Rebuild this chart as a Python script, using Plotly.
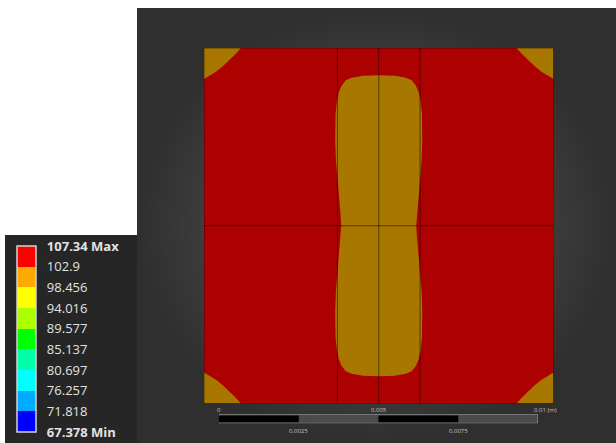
import plotly.graph_objects as go

# Figure size in pixels
W, H = 616, 443

# ---- Result legend: band boundaries and colours ----
levels = [67.378, 71.818, 76.257, 80.697, 85.137, 89.577, 94.016, 98.456, 102.9, 107.34]
level_labels = ["<b>67.378 Min</b>", "71.818", "76.257", "80.697", "85.137",
                "89.577", "94.016", "98.456", "102.9", "<b>107.34 Max</b>"]
band_colors = ["#0000FF", "#00AAFF", "#00FFFF", "#00FFAA", "#00FF00",
               "#AAFF00", "#FFFF00", "#FFAA00", "#FF0000"]

# Shaded colours of the two bands that appear on the plate
plate_high_color = "#AD0000"   # 102.9 - 107.34
plate_mid_color = "#A87700"    # 98.456 - 102.9

# ---- Plate geometry (mm) ----
plate_size = 11.0
mesh_x = [0.0, 4.2, 5.5, 6.8, 11.0]
mesh_y = [0.0, 5.5, 11.0]

# Contour of the 98.456-102.9 band along the plate centre line (mm)
core_x = [5.50, 6.00, 6.35, 6.54, 6.67, 6.76, 6.82, 6.86, 6.87, 6.85, 6.80, 6.74, 6.70, 6.68,
          6.70, 6.74, 6.80, 6.85, 6.87, 6.86, 6.82, 6.76, 6.67, 6.54, 6.35, 6.00, 5.50,
          5.00, 4.65, 4.46, 4.33, 4.24, 4.18, 4.14, 4.13, 4.15, 4.20, 4.26, 4.30, 4.32,
          4.30, 4.26, 4.20, 4.15, 4.13, 4.14, 4.18, 4.24, 4.33, 4.46, 4.65, 5.00]
core_y = [10.16, 10.14, 10.08, 10.00, 9.83, 9.62, 9.34, 8.94, 8.16, 7.54, 6.92, 6.30, 5.84, 5.50,
          5.16, 4.70, 4.08, 3.46, 2.84, 2.06, 1.66, 1.38, 1.17, 1.00, 0.92, 0.86, 0.84,
          0.86, 0.92, 1.00, 1.17, 1.38, 1.66, 2.06, 2.84, 3.46, 4.08, 4.70, 5.16, 5.50,
          5.84, 6.30, 6.92, 7.54, 8.16, 8.94, 9.34, 9.62, 9.83, 10.00, 10.08, 10.14]

# Contours of the same band in the four plate corners (mm)
corner_tl_x = [0.00, 1.16, 1.01, 0.82, 0.60, 0.39, 0.19, 0.00]
corner_tl_y = [11.00, 11.00, 10.83, 10.64, 10.44, 10.27, 10.15, 10.04]
corner_tr_x = [11.00, 9.84, 9.99, 10.18, 10.40, 10.61, 10.81, 11.00]
corner_tr_y = [11.00, 11.00, 10.83, 10.64, 10.44, 10.27, 10.15, 10.04]
corner_bl_x = [0.00, 1.16, 1.01, 0.82, 0.60, 0.39, 0.19, 0.00]
corner_bl_y = [0.00, 0.00, 0.17, 0.36, 0.56, 0.73, 0.85, 0.96]
corner_br_x = [11.00, 9.84, 9.99, 10.18, 10.40, 10.61, 10.81, 11.00]
corner_br_y = [0.00, 0.00, 0.17, 0.36, 0.56, 0.73, 0.85, 0.96]

# ---- Scale bar (m) ----
scale_ticks = [0.0, 0.0025, 0.005, 0.0075, 0.01]
scale_top_ticks = [0.0, 0.005, 0.01]
scale_top_labels = ["0", "0.005", "0.01 (m)"]
scale_bottom_ticks = [0.0025, 0.0075]
scale_bottom_labels = ["0.0025", "0.0075"]


def py(p):
    """Pixel row -> paper fraction."""
    return 1 - p / H


fig = go.Figure()

# Viewport background with a soft radial glow
fig.add_trace(go.Scatter(
    x=[137, W, W, 137, 137], y=[8, 8, H, H, 8],
    mode="lines", line=dict(width=0), fill="toself",
    fillgradient=dict(type="radial", colorscale=[[0, "#4c4c4c"], [0.6, "#424242"], [1, "#2f2f2f"]]),
    hoverinfo="skip", showlegend=False, xaxis="x", yaxis="y"))

# Plate filled with the top band
fig.add_trace(go.Scatter(
    x=[0, plate_size, plate_size, 0, 0], y=[0, 0, plate_size, plate_size, 0],
    mode="lines", line=dict(width=0), fill="toself", fillcolor=plate_high_color,
    hoverinfo="skip", showlegend=False, xaxis="x2", yaxis="y2"))

# Lower band regions
for rx, ry in [(core_x, core_y), (corner_tl_x, corner_tl_y), (corner_tr_x, corner_tr_y),
               (corner_bl_x, corner_bl_y), (corner_br_x, corner_br_y)]:
    fig.add_trace(go.Scatter(
        x=rx + [rx[0]], y=ry + [ry[0]],
        mode="lines", line=dict(width=0), fill="toself", fillcolor=plate_mid_color,
        hoverinfo="skip", showlegend=False, xaxis="x2", yaxis="y2"))

# Mesh / body edge lines
lx, ly = [], []
for xv in mesh_x:
    lx += [xv, xv, None]
    ly += [0, plate_size, None]
for yv in mesh_y:
    lx += [0, plate_size, None]
    ly += [yv, yv, None]
fig.add_trace(go.Scatter(
    x=lx, y=ly, mode="lines", line=dict(color="rgba(0,0,0,0.5)", width=1),
    hoverinfo="skip", showlegend=False, xaxis="x2", yaxis="y2"))

# Legend colour bar
span = levels[-1] - levels[0]
colorscale = []
for i, c in enumerate(band_colors):
    colorscale.append([(levels[i] - levels[0]) / span, c])
    colorscale.append([(levels[i + 1] - levels[0]) / span, c])
colorscale[0][0] = 0.0
colorscale[-1][0] = 1.0

fig.add_trace(go.Scatter(
    x=[None], y=[None], mode="markers", xaxis="x3", yaxis="y3", showlegend=False,
    marker=dict(
        color=[levels[0]], cmin=levels[0], cmax=levels[-1], colorscale=colorscale,
        showscale=True,
        colorbar=dict(
            x=16.5 / W, xanchor="left", xpad=0, ypad=0,
            y=py(339), yanchor="middle", lenmode="pixels", len=186,
            thickness=19, outlinecolor="#d4d4d4", outlinewidth=1.5,
            tickvals=levels, ticktext=level_labels,
            ticks="outside", ticklen=8, tickcolor="rgba(0,0,0,0)",
            tickfont=dict(family="Open Sans", size=13, color="#e2e2e2"),
            bgcolor="rgba(0,0,0,0)", borderwidth=0,
        ),
    )))

shapes = [
    # legend panel
    dict(type="rect", xref="x", yref="y", x0=5, x1=137, y0=235, y1=H,
         fillcolor="#262626", line=dict(width=0), layer="below"),
    # scale bar frame
    dict(type="rect", xref="x3", yref="y3", x0=scale_ticks[0], x1=scale_ticks[-1], y0=0, y1=1,
         fillcolor="#4b4b4b", line=dict(color="#9a9a9a", width=1)),
]
for i in range(0, len(scale_ticks) - 1, 2):
    shapes.append(dict(type="rect", xref="x3", yref="y3",
                       x0=scale_ticks[i], x1=scale_ticks[i + 1], y0=0.12, y1=0.88,
                       fillcolor="#000000", line=dict(width=0)))

annotations = []
label_font = dict(family="Open Sans", size=6, color="#c4c4c4")
for xv, txt in zip(scale_top_ticks, scale_top_labels):
    a = dict(x=xv, xref="x3", y=py(410), yref="paper", text=txt, showarrow=False,
             font=label_font, xanchor="center", yanchor="middle")
    if txt.endswith("(m)"):
        a.update(xanchor="left", xshift=-6.5)
    annotations.append(a)
for xv, txt in zip(scale_bottom_ticks, scale_bottom_labels):
    annotations.append(dict(x=xv, xref="x3", y=py(431), yref="paper", text=txt,
                            showarrow=False, font=label_font,
                            xanchor="center", yanchor="middle"))

hidden = dict(visible=False, fixedrange=True, showgrid=False, zeroline=False)
fig.update_layout(
    width=W, height=H,
    margin=dict(l=0, r=0, t=0, b=0, pad=0, autoexpand=False),
    paper_bgcolor="#FFFFFF", plot_bgcolor="rgba(0,0,0,0)",
    xaxis=dict(domain=[0, 1], range=[0, W], **hidden),
    yaxis=dict(domain=[0, 1], range=[H, 0], **hidden),
    xaxis2=dict(domain=[204 / W, 553.5 / W], range=[0, plate_size], anchor="y2", **hidden),
    yaxis2=dict(domain=[py(403.5), py(48)], range=[0, plate_size], anchor="x2", **hidden),
    xaxis3=dict(domain=[219 / W, 538 / W], range=[0, 0.01], anchor="y3", **hidden),
    yaxis3=dict(domain=[py(423.3), py(414.3)], range=[0, 1], anchor="x3", **hidden),
    shapes=shapes, annotations=annotations, showlegend=False,
)

fig.write_html("out.html")
